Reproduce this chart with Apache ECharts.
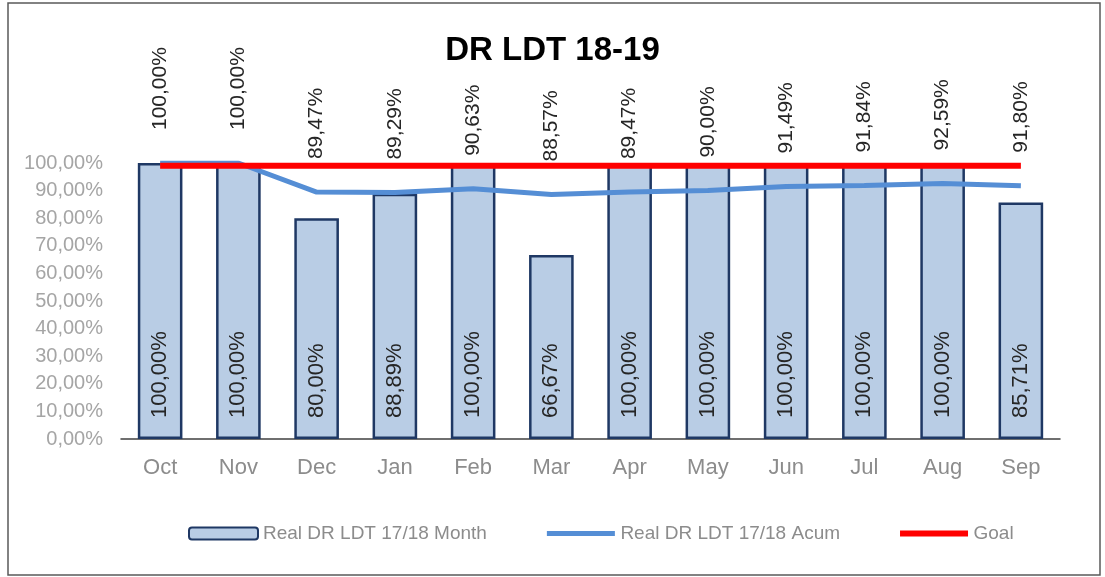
<!DOCTYPE html>
<html>
<head>
<meta charset="utf-8">
<title>DR LDT 18-19</title>
<script src="https://cdn.jsdelivr.net/npm/echarts@6/dist/echarts.min.js"></script>
<style>
  html, body { margin: 0; padding: 0; background: #fff; }
  #chart { width: 1105px; height: 577px; }
</style>
</head>
<body>
<div id="chart"></div>
<script>
// data
const months = ['Oct', 'Nov', 'Dec', 'Jan', 'Feb', 'Mar', 'Apr', 'May', 'Jun', 'Jul', 'Aug', 'Sep'];
const monthValues = [100, 100, 80, 88.89, 100, 66.67, 100, 100, 100, 100, 100, 85.71];
const acumValues = [100, 100, 89.47, 89.29, 90.63, 88.57, 89.47, 90, 91.49, 91.84, 92.59, 91.8];
const goalValues = [99, 99, 99, 99, 99, 99, 99, 99, 99, 99, 99, 99];

const FONT = '"Liberation Sans", Arial, sans-serif';
const pct = v => Number(v).toFixed(2).replace('.', ',') + '%';

// thick line icons for the legend (the M points fix the box to 68x12)
const blueIcon = 'path://M0,0M68,12M0,3.5L68,3.5L68,8.5L0,8.5Z';
const redIcon = 'path://M0,0M68,12M0,3L68,3L68,9L0,9Z';

const chart = echarts.init(document.getElementById('chart'));

chart.setOption({
  animation: false,
  textStyle: { fontFamily: FONT },
  // outer frame
  graphic: [{
    type: 'rect',
    shape: { x: 8, y: 3, width: 1092, height: 572 },
    style: { fill: 'none', stroke: '#595959', lineWidth: 1.5 },
    silent: true
  }],
  title: {
    text: 'DR LDT 18-19',
    left: 'center',
    top: 29,
    textStyle: { fontFamily: FONT, fontSize: 33, fontWeight: 'bold', color: '#000' }
  },
  legend: {
    left: 183,
    top: 519,
    itemGap: 60,
    itemWidth: 69,
    itemHeight: 12,
    textStyle: { fontFamily: FONT, fontSize: 19, color: '#8c8c8c' },
    data: [
      { name: 'Real DR LDT 17/18 Month' },
      { name: 'Real DR LDT 17/18 Acum', icon: blueIcon, itemStyle: { color: '#558ed5', borderWidth: 0 } },
      { name: 'Goal', icon: redIcon, itemStyle: { color: '#ff0000', borderWidth: 0 } }
    ]
  },
  grid: { left: 121, right: 45, top: 163, bottom: 138 },
  xAxis: {
    type: 'category',
    data: months,
    axisLine: { lineStyle: { color: '#404040', width: 1.5 } },
    axisTick: { show: false },
    axisLabel: { fontFamily: FONT, fontSize: 22, color: '#8c8c8c', margin: 18 }
  },
  yAxis: {
    type: 'value',
    min: 0,
    max: 100,
    interval: 10,
    axisLine: { show: false },
    axisTick: { show: false },
    splitLine: { show: false },
    axisLabel: { fontFamily: FONT, fontSize: 20, color: '#a5a5a5', margin: 18, formatter: pct }
  },
  series: [
    {
      name: 'Real DR LDT 17/18 Month',
      type: 'bar',
      data: monthValues,
      barWidth: '57%',
      itemStyle: { color: '#b9cde5', borderColor: '#1f3864', borderWidth: 2.5 },
      label: {
        show: true,
        position: 'insideBottom',
        rotate: 90,
        align: 'left',
        verticalAlign: 'middle',
        distance: 21,
        fontFamily: FONT,
        fontSize: 22,
        color: '#262626',
        formatter: p => pct(p.value)
      },
      z: 2
    },
    {
      name: 'Real DR LDT 17/18 Acum',
      type: 'line',
      data: acumValues,
      symbol: 'circle',
      symbolSize: 0,
      lineStyle: { color: '#558ed5', width: 5 },
      itemStyle: { color: '#558ed5' },
      label: {
        show: true,
        position: 'top',
        rotate: 90,
        align: 'left',
        verticalAlign: 'middle',
        distance: 33,
        fontFamily: FONT,
        fontSize: 21,
        color: '#262626',
        formatter: p => pct(p.value)
      },
      z: 3
    },
    {
      name: 'Goal',
      type: 'line',
      data: goalValues,
      symbol: 'none',
      lineStyle: { color: '#ff0000', width: 6 },
      itemStyle: { color: '#ff0000' },
      z: 4
    }
  ]
});
</script>
</body>
</html>
